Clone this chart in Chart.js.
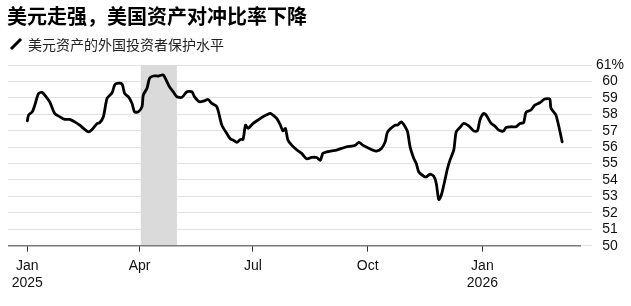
<!DOCTYPE html>
<html>
<head>
<meta charset="utf-8">
<script src="https://cdn.jsdelivr.net/npm/chart.js@4"></script>
<style>
  body { margin: 0; background: #fff; }
  #wrap { position: relative; width: 631px; height: 306px; }
  #title { position: absolute; left: 7px; top: 6px; font: 700 20px/20px "Noto Sans CJK SC", sans-serif; color: #000; white-space: nowrap; }
  #sub { position: absolute; left: 28px; top: 36px; font: 400 14px/16px "Noto Sans CJK SC", sans-serif; color: #222; white-space: nowrap; }
  #icon { position: absolute; left: 9px; top: 37px; }
  canvas { position: absolute; left: 0; top: 0; }
</style>
</head>
<body>
<div id="wrap">
  <canvas id="chart" width="631" height="306"></canvas>
  <div id="title">美元走强，美国资产对冲比率下降</div>
  <svg id="icon" width="14" height="14"><line x1="2" y1="12" x2="12" y2="2" stroke="#000" stroke-width="3"/></svg>
  <div id="sub">美元资产的外国投资者保护水平</div>
</div>
<script>
// --- Datos ---
const dates = [
  '2025-01-01','2025-01-02','2025-01-05','2025-01-07','2025-01-10','2025-01-13','2025-01-17','2025-01-19',
  '2025-01-23','2025-01-27','2025-01-31','2025-02-04','2025-02-08','2025-02-12','2025-02-16','2025-02-19',
  '2025-02-22','2025-02-26','2025-02-28','2025-03-03','2025-03-06','2025-03-10','2025-03-12','2025-03-14',
  '2025-03-18','2025-03-20','2025-03-23','2025-03-26','2025-03-28','2025-03-31','2025-04-03','2025-04-04',
  '2025-04-07','2025-04-09','2025-04-12','2025-04-16','2025-04-20','2025-04-23','2025-04-25','2025-04-28',
  '2025-05-01','2025-05-05','2025-05-09','2025-05-13','2025-05-15','2025-05-19','2025-05-23','2025-05-26',
  '2025-05-29','2025-06-02','2025-06-06','2025-06-10','2025-06-13','2025-06-15','2025-06-18','2025-06-21',
  '2025-06-23','2025-06-25','2025-06-27','2025-07-01','2025-07-05','2025-07-09','2025-07-15','2025-07-17',
  '2025-07-20','2025-07-23','2025-07-25','2025-07-27','2025-07-29','2025-08-01','2025-08-05','2025-08-09',
  '2025-08-13','2025-08-17','2025-08-21','2025-08-24','2025-08-26','2025-08-29','2025-09-02','2025-09-06',
  '2025-09-10','2025-09-14','2025-09-18','2025-09-21','2025-09-24','2025-09-27','2025-10-01','2025-10-05',
  '2025-10-08','2025-10-12','2025-10-15','2025-10-17','2025-10-23','2025-10-25','2025-10-28','2025-10-31',
  '2025-11-02','2025-11-04','2025-11-07','2025-11-09','2025-11-11','2025-11-15','2025-11-17','2025-11-20',
  '2025-11-23','2025-11-25','2025-11-27','2025-11-29','2025-12-01','2025-12-04','2025-12-06','2025-12-09',
  '2025-12-11','2025-12-14','2025-12-17','2025-12-21','2025-12-25','2025-12-28','2025-12-30','2026-01-02',
  '2026-01-04','2026-01-08','2026-01-11','2026-01-14','2026-01-18','2026-01-20','2026-01-24','2026-01-28',
  '2026-01-31','2026-02-03','2026-02-05','2026-02-09','2026-02-12','2026-02-16','2026-02-20','2026-02-24',
  '2026-02-25','2026-03-01','2026-03-06'
];
const values = [
  57.6, 57.95, 58.15, 58.56, 59.27, 59.33, 58.97, 58.76,
  58.05, 57.85, 57.69, 57.69, 57.54, 57.34, 57.08, 56.93,
  57.08, 57.44, 57.48, 57.85, 58.97, 59.31, 59.78, 59.88,
  59.84, 59.27, 59.07, 58.66, 58.15, 58.15, 58.46, 59.17,
  59.58, 60.19, 60.33, 60.33, 60.39, 59.98, 59.68, 59.37,
  59.07, 59.03, 59.37, 59.37, 59.07, 58.76, 58.82, 58.9,
  58.66, 58.46, 57.34, 56.83, 56.49, 56.43, 56.29, 56.47,
  56.47, 57.34, 57.14, 57.44, 57.65, 57.85, 58.05, 57.95,
  57.75, 57.34, 56.99, 57.14, 56.43, 56.12, 55.84, 55.62,
  55.29, 55.37, 55.37, 55.2, 55.62, 55.71, 55.77, 55.82,
  55.92, 56.02, 56.06, 56.12, 56.29, 56.12, 55.96, 55.82,
  55.76, 55.92, 56.32, 56.93, 57.34, 57.34, 57.54, 57.24,
  56.93, 56.02, 55.31, 55.0, 54.49, 54.23, 54.19, 54.35,
  54.23, 53.79, 52.81, 53.07, 53.68, 54.7, 55.21, 55.82,
  56.93, 57.2, 57.44, 57.3, 56.99, 56.99, 57.65, 58.05,
  57.95, 57.44, 57.28, 57.04, 56.98, 57.2, 57.24, 57.24,
  57.44, 57.48, 58.12, 58.26, 58.56, 58.7, 58.93, 58.93,
  58.36, 57.95, 56.32
];
const tickDates = ['2025-01-01', '2025-04-01', '2025-07-01', '2025-10-01', '2026-01-01'];
const tickLabels = [['Jan', '2025'], ['Apr'], ['Jul'], ['Oct'], ['Jan', '2026']];
const shadeDates = ['2025-04-02', '2025-05-01'];
const yMin = 50, yMax = 61;

// días desde el 1 de enero de 2025
const dayOf = d => (Date.parse(d) - Date.parse('2025-01-01')) / 86400000;

// --- Plugin: banda sombreada y línea base ---
const bandPlugin = {
  id: 'band',
  beforeDatasetsDraw(chart) {
    const { ctx, chartArea, scales: { x } } = chart;
    const x0 = x.getPixelForValue(dayOf(shadeDates[0]));
    const x1 = x.getPixelForValue(dayOf(shadeDates[1]));
    ctx.save();
    ctx.fillStyle = '#dadada';
    ctx.fillRect(x0, chartArea.top, x1 - x0, chartArea.bottom - chartArea.top);
    ctx.strokeStyle = '#7a7a7a';
    ctx.lineWidth = 1.6;
    ctx.beginPath();
    ctx.moveTo(chartArea.left, chartArea.bottom);
    ctx.lineTo(chartArea.right - 11, chartArea.bottom);
    ctx.stroke();
    ctx.restore();
  }
};

new Chart(document.getElementById('chart'), {
  type: 'line',
  data: {
    datasets: [{
      data: dates.map((d, i) => ({ x: dayOf(d), y: values[i] })),
      borderColor: '#000',
      borderWidth: 2.8,
      pointRadius: 0,
      tension: 0.25,
      borderJoinStyle: 'round',
      borderCapStyle: 'round',
      fill: false
    }]
  },
  options: {
    responsive: false,
    animation: false,
    layout: { padding: { top: 65, left: 8, right: 0, bottom: 0 } },
    plugins: { legend: { display: false }, tooltip: { enabled: false } },
    scales: {
      x: {
        type: 'linear',
        min: -15.5,
        max: 452.9,
        afterBuildTicks: scale => { scale.ticks = tickDates.map(d => ({ value: dayOf(d) })); },
        afterFit: scale => { scale.height = 60.3; },
        grid: { drawOnChartArea: false, drawTicks: true, tickLength: 6, color: '#333', lineWidth: 1 },
        border: { display: false },
        ticks: {
          autoSkip: false,
          maxRotation: 0,
          padding: 6,
          color: '#111',
          font: { family: '"Liberation Sans", Arial, sans-serif', size: 14, lineHeight: 1.2 },
          callback: (v, i) => tickLabels[i]
        }
      },
      y: {
        position: 'right',
        min: yMin,
        max: yMax,
        afterFit: scale => { scale.width = 39; },
        grid: { color: '#e2e2e2', lineWidth: 1, drawTicks: false },
        border: { display: false },
        ticks: {
          stepSize: 1,
          autoSkip: false,
          padding: 4,
          crossAlign: 'center',
          color: '#111',
          font: { family: '"Liberation Sans", Arial, sans-serif', size: 14 },
          callback: v => v === yMax ? v + '%' : v
        }
      }
    }
  },
  plugins: [bandPlugin]
});
</script>
</body>
</html>
